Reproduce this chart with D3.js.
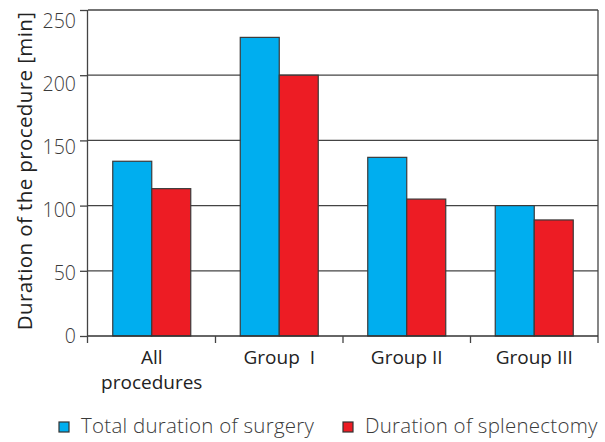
<!DOCTYPE html>
<html><head><meta charset="utf-8">
<script src="https://cdn.jsdelivr.net/npm/d3@7"></script>
<style>body{margin:0;background:#fff}</style>
</head><body>
<svg id="c" width="605" height="442"></svg>
<script>
const categories = ["All procedures", "Group  I", "Group II", "Group III"];
const seriesNames = ["Total duration of surgery", "Duration of splenectomy"];
const totalDuration = [134, 229, 137, 100];
const splenectomyDuration = [113, 200, 105, 89];
const yTicks = [0, 50, 100, 150, 200, 250];
const colors = ["#00aeef", "#ed1c24"];

const svg = d3.select("#c");
const m = {l: 88, r: 598, t: 10, b: 336};
const font = "'Open Sans', sans-serif";
const x = d3.scaleBand().domain(categories).range([m.l, m.r]);
const y = d3.scaleLinear().domain([0, 250]).range([m.b, m.t]);
const yLab = d3.scaleLinear().domain([0, 250]).range([m.b, 21]);
const xs = d3.scaleBand().domain(seriesNames).range([0, 78]);

// gridlines
svg.append("g").selectAll("line").data(yTicks.filter(d => d > 0)).join("line")
  .attr("x1", m.l).attr("x2", m.r).attr("y1", d => y(d)).attr("y2", d => y(d))
  .attr("stroke", "#444").attr("stroke-width", 1.3);
// right border
svg.append("line").attr("x1", m.r).attr("x2", m.r).attr("y1", m.t).attr("y2", m.b + 7)
  .attr("stroke", "#444").attr("stroke-width", 1.3);

// bars
const data = categories.map((c, i) => ({c, v: [totalDuration[i], splenectomyDuration[i]]}));
const g = svg.append("g");
data.forEach(d => {
  d.v.forEach((v, j) => {
    g.append("rect")
      .attr("x", x(d.c) + x.bandwidth()/2 - 39 + xs(seriesNames[j]))
      .attr("y", y(v)).attr("width", xs.bandwidth()).attr("height", y(0) - y(v))
      .attr("fill", colors[j]).attr("stroke", "#3a3a3a").attr("stroke-width", 1.2);
  });
});

// y axis
const ya = svg.append("g").attr("transform", `translate(${m.l},0)`)
  .call(d3.axisLeft(y).tickValues(yTicks).tickSize(8).tickPadding(4));
ya.select(".domain").attr("stroke", "#444").attr("stroke-width", 1.3).attr("d", `M-0.5,${m.t}V${m.b + 7}`);
ya.selectAll(".tick line").attr("stroke", "#444").attr("stroke-width", 1.3);
ya.selectAll(".tick text").attr("font-family", font).attr("font-size", 19.5).attr("fill", "#3a3a3a")
  .attr("font-weight", 300)
  .attr("transform", d => `translate(0,${yLab(d) - y(d)})`);

// x axis
const xa = svg.append("g").attr("transform", `translate(0,${m.b})`);
xa.append("line").attr("x1", m.l).attr("x2", m.r).attr("y1", 0).attr("y2", 0)
  .attr("stroke", "#333").attr("stroke-width", 1.5);
xa.selectAll(".sep").data(categories.slice(1)).join("line")
  .attr("x1", d => x(d)).attr("x2", d => x(d)).attr("y1", 0).attr("y2", 7)
  .attr("stroke", "#444").attr("stroke-width", 1.3);
xa.selectAll(".lab").data(categories).join("text")
  .attr("x", d => x(d) + x.bandwidth()/2).attr("y", 28)
  .attr("text-anchor", "middle").attr("font-family", font).attr("font-size", 19).attr("fill", "#222")
  .style("white-space", "pre")
  .each(function(d) {
    const t = d3.select(this);
    if (d === "All procedures") {
      t.append("tspan").attr("x", x(d) + x.bandwidth()/2).attr("dy", 0).text("All");
      t.append("tspan").attr("x", x(d) + x.bandwidth()/2).attr("dy", 25).text("procedures");
    } else t.text(d);
  });

// y title
svg.append("text").attr("transform", `translate(32,171) rotate(-90)`)
  .attr("text-anchor", "middle").attr("font-family", font).attr("font-size", 20.5)
  .attr("letter-spacing", 0.4).attr("fill", "#222")
  .text("Duration of the procedure [min]");

// legend
const legX = [59, 343];
const lg = svg.append("g");
seriesNames.forEach((s, i) => {
  lg.append("rect").attr("x", legX[i]).attr("y", 422).attr("width", 10).attr("height", 10)
    .attr("fill", colors[i]).attr("stroke", "#333").attr("stroke-width", 1.2);
  lg.append("text").attr("x", legX[i] + 22).attr("y", 433).attr("font-family", font)
    .attr("font-size", 20.5).attr("letter-spacing", 0.25).attr("fill", "#3a3a3a")
    .attr("font-weight", 300).text(s);
});
</script>
</body></html>
